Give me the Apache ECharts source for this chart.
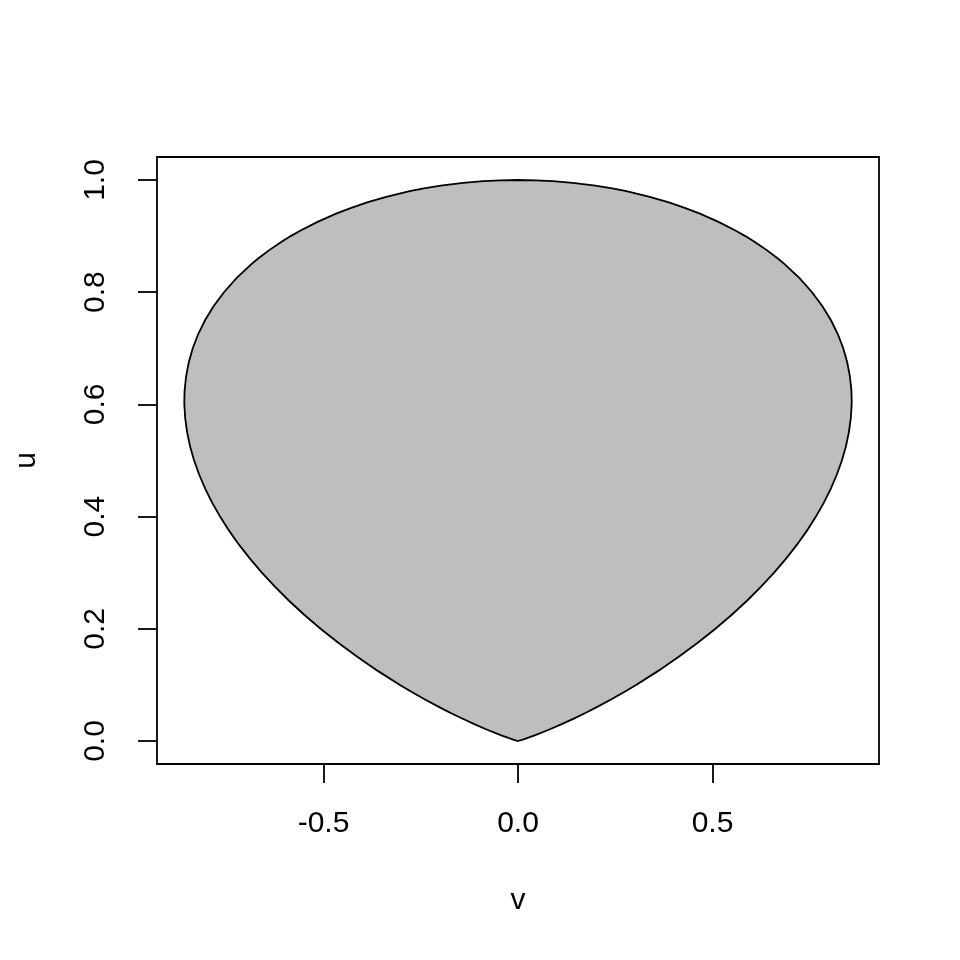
<!DOCTYPE html>
<html><head><meta charset="utf-8">
<script src="https://cdn.jsdelivr.net/npm/echarts@6/dist/echarts.min.js"></script>
<style>html,body{margin:0;padding:0;background:#fff}#c{width:960px;height:960px}</style>
</head><body><div id="c"></div>
<script>
// boundary of the region: u (vertical) and half-width v (right side)
var uVals = [0, 0.0025, 0.005, 0.01, 0.02, 0.03, 0.04, 0.05, 0.06, 0.075, 0.0875, 0.1, 0.125, 0.15, 0.175, 0.2, 0.225, 0.25, 0.275, 0.3, 0.325, 0.35, 0.375, 0.4, 0.425, 0.45, 0.475, 0.5, 0.525, 0.55, 0.575, 0.6, 0.6065, 0.625, 0.65, 0.675, 0.7, 0.725, 0.75, 0.775, 0.8, 0.825, 0.85, 0.86, 0.875, 0.89, 0.9, 0.91, 0.925, 0.94, 0.95, 0.96, 0.97, 0.98, 0.985, 0.99, 0.995, 0.998, 0.9995, 1];
var vRight = [0, 0.0122, 0.0230, 0.0429, 0.0791, 0.1124, 0.1435, 0.1731, 0.2013, 0.2414, 0.2731, 0.3035, 0.3605, 0.4132, 0.4621, 0.5075, 0.5496, 0.5887, 0.6249, 0.6584, 0.6891, 0.7172, 0.7428, 0.7658, 0.7863, 0.8042, 0.8197, 0.8326, 0.8429, 0.8505, 0.8555, 0.8577, 0.8578, 0.8570, 0.8532, 0.8463, 0.8361, 0.8223, 0.8046, 0.7826, 0.7558, 0.7237, 0.6853, 0.6680, 0.6395, 0.6077, 0.5843, 0.5589, 0.5166, 0.4677, 0.4303, 0.3879, 0.3386, 0.2786, 0.2422, 0.1985, 0.1409, 0.0893, 0.0447, 0];
var xTicks = [-0.5, 0, 0.5];
var yTicks = [0, 0.2, 0.4, 0.6, 0.8, 1.0];

// closed outline: right side going up, left side (mirrored) going down
var outline = [];
for (var i = 0; i < uVals.length; i++) outline.push([vRight[i], uVals[i]]);
for (var j = uVals.length - 1; j >= 0; j--) outline.push([-vRight[j], uVals[j]]);

var FONT = 'Liberation Sans, Arial, Helvetica, sans-serif';
var chart = echarts.init(document.getElementById('c'), null, {renderer: 'canvas'});
chart.setOption({
  animation: false,
  backgroundColor: '#ffffff',
  grid: {left: 157, right: 81, top: 157, bottom: 196, show: true, borderColor: '#000', borderWidth: 1.8,
    backgroundColor: 'transparent', containLabel: false, outerBoundsMode: 'none'},
  xAxis: {
    type: 'value', min: -0.928, max: 0.928, position: 'bottom',
    name: 'v', nameLocation: 'middle', nameGap: 122,
    nameTextStyle: {fontFamily: FONT, fontSize: 30, color: '#000'},
    axisLine: {show: false, onZero: false},
    splitLine: {show: false},
    axisTick: {show: true, inside: false, length: 19, customValues: xTicks, lineStyle: {color: '#000', width: 1.8}},
    axisLabel: {show: true, customValues: xTicks, margin: 45, fontFamily: FONT, fontSize: 30, color: '#000',
      formatter: function (v) { return v.toFixed(1); }}
  },
  yAxis: {
    type: 'value', min: -0.041, max: 1.041, position: 'left',
    name: 'u', nameLocation: 'middle', nameGap: 115, nameRotate: 90,
    nameTextStyle: {fontFamily: FONT, fontSize: 30, color: '#000'},
    axisLine: {show: false, onZero: false},
    splitLine: {show: false},
    axisTick: {show: true, inside: false, length: 19, customValues: yTicks, lineStyle: {color: '#000', width: 1.8}},
    axisLabel: {show: true, customValues: yTicks, rotate: 90, margin: 46, fontFamily: FONT, fontSize: 30, color: '#000',
      formatter: function (v) { return v.toFixed(1); }}
  },
  series: [{
    type: 'custom',
    coordinateSystem: 'cartesian2d',
    data: [[0, 0]],
    renderItem: function (params, api) {
      var pts = outline.map(function (p) { return api.coord(p); });
      return {type: 'polygon', shape: {points: pts},
        style: {fill: '#BEBEBE', stroke: '#000', lineWidth: 1.8}};
    },
    silent: true
  }]
});
</script></body></html>
